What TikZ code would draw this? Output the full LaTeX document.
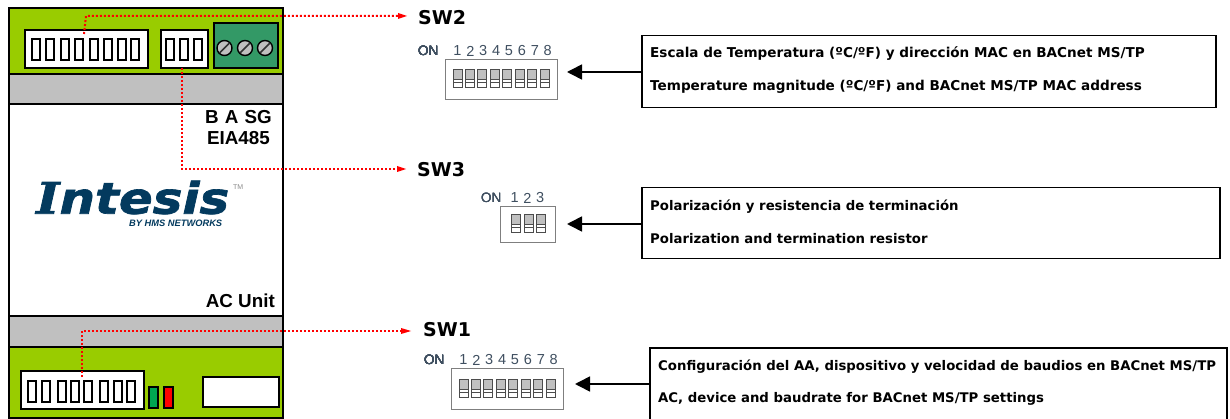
\documentclass[tikz,border=0pt]{standalone}
\usepackage{fontspec}
\setmainfont{DejaVu Sans}
\newfontfamily\arialf{Liberation Sans}
\newfontfamily\logoserif{DejaVu Serif}[FakeBold=1.5]
\newfontfamily\logosans{DejaVu Sans}[FakeBold=1.5]
\usetikzlibrary{arrows.meta}
\definecolor{devgreen}{HTML}{99CC00}
\definecolor{devgray}{HTML}{C0C0C0}
\definecolor{termgreen}{HTML}{339966}
\definecolor{logoblue}{HTML}{033A5E}
\definecolor{ledgreen}{HTML}{00A651}
\definecolor{dipgray}{HTML}{7F7F7F}
\definecolor{onblue}{HTML}{3F4F60}
\tikzset{
  x=1pt,y=-1pt,
  body/.style={draw=black,line width=1.8pt},
  cellbox/.style={draw=black,line width=2pt,fill=white},
  hostbox/.style={draw=black,line width=1.8pt,fill=white,inner sep=0pt,anchor=north west},
  redline/.style={draw=red,line width=2pt,dash pattern=on 2pt off 2pt},
  redhead/.style={fill=red,draw=none},
  callout/.style={draw=black,line width=1.5pt,fill=white,inner sep=0pt,anchor=north west},
  pointer/.style={draw=black,line width=1.6pt,-{Triangle[length=15pt,width=15pt]}},
  boxtext/.style={anchor=west,inner sep=0pt,font=\fontsize{13.27pt}{15pt}\bfseries},
  boxtextw/.style={anchor=west,inner sep=0pt,font=\fontsize{13.57pt}{15pt}\bfseries},
  swtitle/.style={anchor=west,inner sep=0pt,font=\fontsize{19pt}{22pt}\bfseries},
  devtext/.style={anchor=east,inner sep=0pt,font=\arialf\fontsize{18.8pt}{21pt}\bfseries},
  dipnum/.style={anchor=center,inner sep=0pt,text=onblue,font=\arialf\fontsize{14.5pt}{16pt}\selectfont},
  dipon/.style={anchor=west,inner sep=0pt,text=onblue,font=\arialf\fontsize{13.5pt}{16pt}\selectfont},
  dipcase/.style={draw=dipgray,line width=1.2pt,fill=white,inner sep=0pt,anchor=north west},
}
\newcommand{\dipcell}[2]{%
  \fill[devgray] (#1,#2) rectangle ++(9,10);
  \draw[black!70,line width=1pt] (#1,#2) rectangle ++(9,18);
  \draw[black!70,line width=1pt] (#1,#2+10) -- ++(9,0) (#1,#2+13) -- ++(9,0);
}
\begin{document}
\begin{tikzpicture}
\useasboundingbox (0,0) rectangle (1230,419);
\fill[white] (0,0) rectangle (1230,419);
% device
\draw[body,fill=white] (9,8) rectangle (283,418);
\draw[body,fill=devgreen] (9,8) rectangle (283,74);
\draw[body,fill=devgray] (9,74) rectangle (283,104);
\draw[body,fill=devgray] (9,316) rectangle (283,347);
\draw[body,fill=devgreen] (9,347) rectangle (283,418);
% top dip
\node[hostbox,minimum width=123pt,minimum height=38pt] (swtwohost) at (24,29) {};
\foreach \x in {31,45,60,74,88.5,103,117,129.5} \draw[cellbox] (\x+1,39) rectangle ++(8,21);
\node[hostbox,minimum width=47pt,minimum height=38pt] (swthreehost) at (160,29) {};
\foreach \x in {165,179,193} \draw[cellbox] (\x+1,39) rectangle ++(8,21);
% terminal
\draw[draw=black,line width=1.8pt,fill=termgreen] (214,23) rectangle (278,68);
\foreach \x in {224.5,245,265}{
  \draw[black,line width=1.4pt,fill=devgray] (\x,48) circle (7.5);
  \draw[black!80,line width=1.6pt] (\x-5,48+5) -- (\x+5,48-5);
}
% bottom
\node[hostbox,minimum width=123pt,minimum height=38pt] (swonehost) at (20,370) {};
\foreach \x in {27.3,41.3,56.7,70,83.3,99,112.7,126} \draw[cellbox] (\x+1,381) rectangle ++(8,21);
\draw[black,line width=1.6pt,fill=ledgreen] (149,387) rectangle (158,408);
\draw[black,line width=1.6pt,fill=red] (164,387) rectangle (173,408);
\draw[black,line width=1.6pt,fill=white] (203,377) rectangle (279,407);
% device text
\node[devtext] (ba) at (272,117) {B\hspace{.05em} A\hspace{.05em} SG};
\node[devtext] (eia) at (270,138) {EIA485};
\node[devtext] (acunit) at (275,301) {AC Unit};
% logo
\node[anchor=west,inner sep=0pt,text=logoblue] (logo) at (36,197.5) {\resizebox{193pt}{33pt}{\bfseries\itshape{\logoserif I}{\logosans ntesis}}};
\node[anchor=west,inner sep=0pt,text=black!45,font=\arialf\fontsize{7pt}{8pt}\selectfont] (tm) at (233,187) {TM};
\node[anchor=west,inner sep=0pt,text=logoblue,font=\arialf\fontsize{9.3pt}{10pt}\bfseries\itshape] (hms) at (129,223) {BY HMS NETWORKS};
% titles
\node[swtitle] (sw2) at (418,18) {SW2};
\node[swtitle] (sw3) at (417,170) {SW3};
\node[swtitle] (sw1) at (423,330) {SW1};
% red leaders
\coordinate (s2a) at (84,34); \coordinate (s2b) at (86,16); \coordinate (s2c) at (398,16);
\draw[redline] (s2a) -- (s2b) -- (s2c);
\fill[redhead] (s2c) -- ++(0,-3) -- ++(9,3) -- ++(-9,3) -- cycle;
\coordinate (s3a) at (182,68); \coordinate (s3b) at (182,169); \coordinate (s3c) at (397,169);
\draw[redline] (s3a) -- (s3b) -- (s3c);
\fill[redhead] (s3c) -- ++(0,-3) -- ++(9,3) -- ++(-9,3) -- cycle;
\coordinate (s1a) at (82,377); \coordinate (s1b) at (82,331); \coordinate (s1c) at (401,331);
\draw[redline] (s1a) -- (s1b) -- (s1c);
\fill[redhead] (s1c) -- ++(0,-3) -- ++(10,3) -- ++(-10,3) -- cycle;
% dip SW2
\node[dipcase,minimum width=112pt,minimum height=40pt] (dip2) at (445,59) {};
\foreach \i in {0,...,7} \dipcell{453+12.45*\i}{70}
\node[dipon] (on2) at (418,51) {ON};
\foreach \i in {1,...,8} \node[dipnum] (a\i) at (444.5+12.9*\i,51) {\i};
% dip SW3
\node[dipcase,minimum width=55pt,minimum height=36pt] (dip3) at (500,206) {};
\foreach \i in {0,1,2} \dipcell{511.5+12.5*\i}{215}
\node[dipon] (on3) at (481,198) {ON};
\foreach \i in {1,2,3} \node[dipnum] (b\i) at (502+12.7*\i,198) {\i};
% dip SW1
\node[dipcase,minimum width=112pt,minimum height=41pt] (dip1) at (451,368) {};
\foreach \i in {0,...,7} \dipcell{459+12.45*\i}{379}
\node[dipon] (on1) at (424,360) {ON};
\foreach \i in {1,...,8} \node[dipnum] (c\i) at (450.5+12.9*\i,360) {\i};
% callouts
\node[callout,minimum width=574pt,minimum height=72pt] (box2) at (641,35) {};
\node[callout,minimum width=578pt,minimum height=71pt] (box3) at (641,187) {};
\node[callout,minimum width=577pt,minimum height=90pt] (box1) at (649,347) {};
\node[boxtextw] (t2a) at (650,53.5) {Escala de Temperatura (ºC/ºF) y dirección MAC en BACnet MS/TP};
\node[boxtextw] (t2b) at (650,86.5) {Temperature magnitude (ºC/ºF) and BACnet MS/TP MAC address};
\node[boxtext] (t3a) at (650,206.5) {Polarización y resistencia de terminación};
\node[boxtext] (t3b) at (650,238.5) {Polarization and termination resistor};
\node[boxtext] (t1a) at (658,366.5) {Configuración del AA, dispositivo y velocidad de baudios en BACnet MS/TP};
\node[boxtext] (t1b) at (658,398.5) {AC, device and baudrate for BACnet MS/TP settings};
% pointers
\coordinate (p2) at (567,72);
\coordinate (p3) at (567,224);
\coordinate (p1) at (575,384);
\draw[pointer] (box2.west |- p2) -- (p2);
\draw[pointer] (box3.west |- p3) -- (p3);
\draw[pointer] (box1.west |- p1) -- (p1);
\end{tikzpicture}
\end{document}
